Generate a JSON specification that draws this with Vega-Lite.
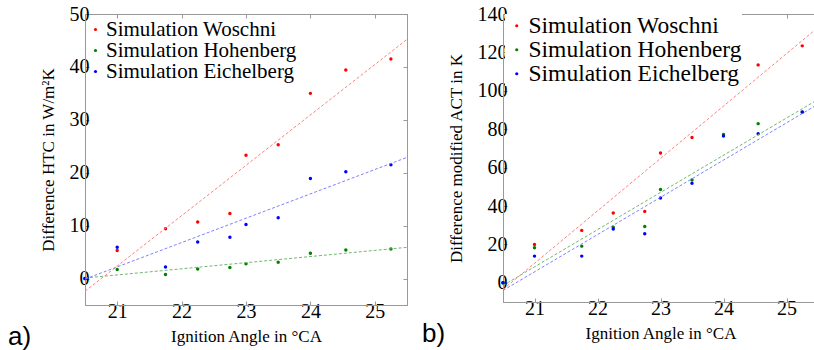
{
  "$schema": "https://vega.github.io/schema/vega-lite/v6.json",
  "padding": {"left": 7, "top": 3, "right": 0, "bottom": 0},
  "spacing": 11,
  "datasets": {
    "htc_points": [
      {"angle": 20.5, "value": 0, "series": "Simulation Woschni"},
      {"angle": 21, "value": 5.3, "series": "Simulation Woschni"},
      {"angle": 21.75, "value": 9.4, "series": "Simulation Woschni"},
      {"angle": 22.25, "value": 10.7, "series": "Simulation Woschni"},
      {"angle": 22.75, "value": 12.3, "series": "Simulation Woschni"},
      {"angle": 23, "value": 23.3, "series": "Simulation Woschni"},
      {"angle": 23.5, "value": 25.3, "series": "Simulation Woschni"},
      {"angle": 24, "value": 35.0, "series": "Simulation Woschni"},
      {"angle": 24.55, "value": 39.4, "series": "Simulation Woschni"},
      {"angle": 25.25, "value": 41.5, "series": "Simulation Woschni"},
      {"angle": 20.5, "value": 0, "series": "Simulation Hohenberg"},
      {"angle": 21, "value": 1.7, "series": "Simulation Hohenberg"},
      {"angle": 21.75, "value": 0.75, "series": "Simulation Hohenberg"},
      {"angle": 22.25, "value": 1.8, "series": "Simulation Hohenberg"},
      {"angle": 22.75, "value": 2.1, "series": "Simulation Hohenberg"},
      {"angle": 23, "value": 2.8, "series": "Simulation Hohenberg"},
      {"angle": 23.5, "value": 3.1, "series": "Simulation Hohenberg"},
      {"angle": 24, "value": 4.8, "series": "Simulation Hohenberg"},
      {"angle": 24.55, "value": 5.4, "series": "Simulation Hohenberg"},
      {"angle": 25.25, "value": 5.6, "series": "Simulation Hohenberg"},
      {"angle": 20.5, "value": 0, "series": "Simulation Eichelberg"},
      {"angle": 21, "value": 5.9, "series": "Simulation Eichelberg"},
      {"angle": 21.75, "value": 2.2, "series": "Simulation Eichelberg"},
      {"angle": 22.25, "value": 6.9, "series": "Simulation Eichelberg"},
      {"angle": 22.75, "value": 7.8, "series": "Simulation Eichelberg"},
      {"angle": 23, "value": 10.2, "series": "Simulation Eichelberg"},
      {"angle": 23.5, "value": 11.5, "series": "Simulation Eichelberg"},
      {"angle": 24, "value": 18.9, "series": "Simulation Eichelberg"},
      {"angle": 24.55, "value": 20.2, "series": "Simulation Eichelberg"},
      {"angle": 25.25, "value": 21.5, "series": "Simulation Eichelberg"}
    ],
    "htc_fit": [
      {"angle": 20.5, "value": -2.4, "series": "Simulation Woschni"},
      {"angle": 25.5, "value": 45.2, "series": "Simulation Woschni"},
      {"angle": 20.5, "value": 0.1, "series": "Simulation Hohenberg"},
      {"angle": 25.5, "value": 5.9, "series": "Simulation Hohenberg"},
      {"angle": 20.5, "value": -0.1, "series": "Simulation Eichelberg"},
      {"angle": 25.5, "value": 22.9, "series": "Simulation Eichelberg"}
    ],
    "act_points": [
      {"angle": 20.5, "value": 0, "series": "Simulation Woschni"},
      {"angle": 21, "value": 19.9, "series": "Simulation Woschni"},
      {"angle": 21.75, "value": 27.3, "series": "Simulation Woschni"},
      {"angle": 22.25, "value": 36.3, "series": "Simulation Woschni"},
      {"angle": 22.75, "value": 37.2, "series": "Simulation Woschni"},
      {"angle": 23, "value": 67.6, "series": "Simulation Woschni"},
      {"angle": 23.5, "value": 75.7, "series": "Simulation Woschni"},
      {"angle": 24, "value": 105.5, "series": "Simulation Woschni"},
      {"angle": 24.55, "value": 113.5, "series": "Simulation Woschni"},
      {"angle": 25.25, "value": 123.4, "series": "Simulation Woschni"},
      {"angle": 20.5, "value": 0, "series": "Simulation Hohenberg"},
      {"angle": 21, "value": 18.2, "series": "Simulation Hohenberg"},
      {"angle": 21.75, "value": 19.1, "series": "Simulation Hohenberg"},
      {"angle": 22.25, "value": 28.9, "series": "Simulation Hohenberg"},
      {"angle": 22.75, "value": 29.3, "series": "Simulation Hohenberg"},
      {"angle": 23, "value": 48.6, "series": "Simulation Hohenberg"},
      {"angle": 23.5, "value": 53.6, "series": "Simulation Hohenberg"},
      {"angle": 24, "value": 77.3, "series": "Simulation Hohenberg"},
      {"angle": 24.55, "value": 82.9, "series": "Simulation Hohenberg"},
      {"angle": 25.25, "value": 88.8, "series": "Simulation Hohenberg"},
      {"angle": 20.5, "value": 0, "series": "Simulation Eichelberg"},
      {"angle": 21, "value": 13.9, "series": "Simulation Eichelberg"},
      {"angle": 21.75, "value": 13.9, "series": "Simulation Eichelberg"},
      {"angle": 22.25, "value": 28.0, "series": "Simulation Eichelberg"},
      {"angle": 22.75, "value": 25.5, "series": "Simulation Eichelberg"},
      {"angle": 23, "value": 44.2, "series": "Simulation Eichelberg"},
      {"angle": 23.5, "value": 51.8, "series": "Simulation Eichelberg"},
      {"angle": 24, "value": 76.5, "series": "Simulation Eichelberg"},
      {"angle": 24.55, "value": 77.6, "series": "Simulation Eichelberg"},
      {"angle": 25.25, "value": 89.0, "series": "Simulation Eichelberg"}
    ],
    "act_fit": [
      {"angle": 20.5, "value": -3.5, "series": "Simulation Woschni"},
      {"angle": 25.5, "value": 133, "series": "Simulation Woschni"},
      {"angle": 20.5, "value": -1.4, "series": "Simulation Hohenberg"},
      {"angle": 25.5, "value": 95.5, "series": "Simulation Hohenberg"},
      {"angle": 20.5, "value": -4, "series": "Simulation Eichelberg"},
      {"angle": 25.5, "value": 93, "series": "Simulation Eichelberg"}
    ]
  },
  "hconcat": [
    {
      "width": 322,
      "height": 291,
      "title": {"text": "a)", "orient": "bottom", "anchor": "start", "frame": "group", "dx": -77, "offset": -20},
      "layer": [
        {
          "data": {"name": "htc_points"},
          "mark": {"type": "point", "filled": true, "size": 12, "opacity": 1, "shape": "circle"},
          "encoding": {
            "x": {"field": "angle", "type": "quantitative", "scale": {"domain": [20.5, 25.5], "nice": false, "zero": false},
                  "axis": {"orient": "bottom", "values": [21, 22, 23, 24, 25], "title": "Ignition Angle in °CA"}},
            "y": {"field": "value", "type": "quantitative", "scale": {"domain": [-5, 50], "nice": false, "zero": false},
                  "axis": {"orient": "left", "values": [0, 10, 20, 30, 40, 50], "title": "Difference HTC in W/m²K"}},
            "color": {"field": "series", "type": "nominal",
                      "scale": {"domain": ["Simulation Woschni", "Simulation Hohenberg", "Simulation Eichelberg"], "range": ["#ff0000", "#008000", "#0000ff"]},
                      "legend": {"title": null, "orient": "none", "legendX": 0, "legendY": 5, "fillColor": "transparent", "labelFont": "Liberation Serif", "labelFontSize": 21, "labelLimit": 0, "rowPadding": -15, "labelOffset": 0}}
          }
        },
        {
          "data": {"name": "htc_fit"},
          "mark": {"type": "line", "strokeDash": [3, 2], "strokeWidth": 1},
          "encoding": {
            "x": {"field": "angle", "type": "quantitative",
                  "axis": {"orient": "top", "labels": false, "title": null, "values": [21, 22, 23, 24, 25]}},
            "y": {"field": "value", "type": "quantitative",
                  "axis": {"orient": "right", "labels": false, "title": null, "values": [0, 10, 20, 30, 40, 50]}},
            "stroke": {"field": "series", "type": "nominal", "legend": null,
                       "scale": {"domain": ["Simulation Woschni", "Simulation Hohenberg", "Simulation Eichelberg"], "range": ["#ff8080", "#70b870", "#8080ff"]}}
          }
        }
      ]
    },
    {
      "width": 315,
      "height": 288,
      "title": {"text": "b)", "orient": "bottom", "anchor": "start", "frame": "group", "dx": -81, "offset": -20},
      "layer": [
        {
          "data": {"name": "act_points"},
          "mark": {"type": "point", "filled": true, "size": 12, "opacity": 1, "shape": "circle"},
          "encoding": {
            "x": {"field": "angle", "type": "quantitative", "scale": {"domain": [20.5, 25.5], "nice": false, "zero": false},
                  "axis": {"orient": "bottom", "values": [21, 22, 23, 24, 25], "title": "Ignition Angle in °CA"}},
            "y": {"field": "value", "type": "quantitative", "scale": {"domain": [-10, 140], "nice": false, "zero": false},
                  "axis": {"orient": "left", "values": [0, 20, 40, 60, 80, 100, 120, 140], "title": "Difference modified ACT in K"}},
            "color": {"field": "series", "type": "nominal",
                      "scale": {"domain": ["Simulation Woschni", "Simulation Hohenberg", "Simulation Eichelberg"], "range": ["#ff0000", "#008000", "#0000ff"]},
                      "legend": {"title": null, "orient": "none", "legendX": 2, "legendY": 0, "labelFont": "Liberation Serif", "labelFontSize": 23.5, "labelLimit": 0, "rowPadding": -10, "labelOffset": 0}}
          }
        },
        {
          "data": {"name": "act_fit"},
          "mark": {"type": "line", "strokeDash": [3, 2], "strokeWidth": 1},
          "encoding": {
            "x": {"field": "angle", "type": "quantitative",
                  "axis": {"orient": "top", "labels": false, "title": null, "values": [21, 22, 23, 24, 25]}},
            "y": {"field": "value", "type": "quantitative",
                  "axis": {"orient": "right", "labels": false, "title": null, "values": [0, 20, 40, 60, 80, 100, 120, 140]}},
            "stroke": {"field": "series", "type": "nominal", "legend": null,
                       "scale": {"domain": ["Simulation Woschni", "Simulation Hohenberg", "Simulation Eichelberg"], "range": ["#ff8080", "#70b870", "#8080ff"]}}
          }
        }
      ]
    }
  ],
  "resolve": {"scale": {"color": "independent", "stroke": "independent", "x": "independent", "y": "independent"}},
  "config": {
    "view": {"stroke": "#999", "strokeWidth": 1},
    "axis": {
      "grid": false,
      "domainColor": "#999",
      "tickColor": "#999",
      "tickSize": -4,
      "labelPadding": 0,
      "labelFont": "Liberation Serif",
      "labelFontSize": 20,
      "labelColor": "#000",
      "titleFont": "Liberation Serif",
      "titleFontSize": 17,
      "titleFontWeight": "normal",
      "titleColor": "#000"
    },
    "axisX": {"titlePadding": 7},
    "axisY": {"titlePadding": 12},
    "legend": {
      "padding": 0,
      "fillColor": "white",
      "labelFont": "Liberation Serif",
      "labelColor": "#000",
      "symbolSize": 10,
      "symbolType": "circle",
      "symbolStrokeWidth": 0
    },
    "title": {"font": "Liberation Sans", "fontSize": 26, "fontWeight": "normal", "color": "#000"}
  }
}
